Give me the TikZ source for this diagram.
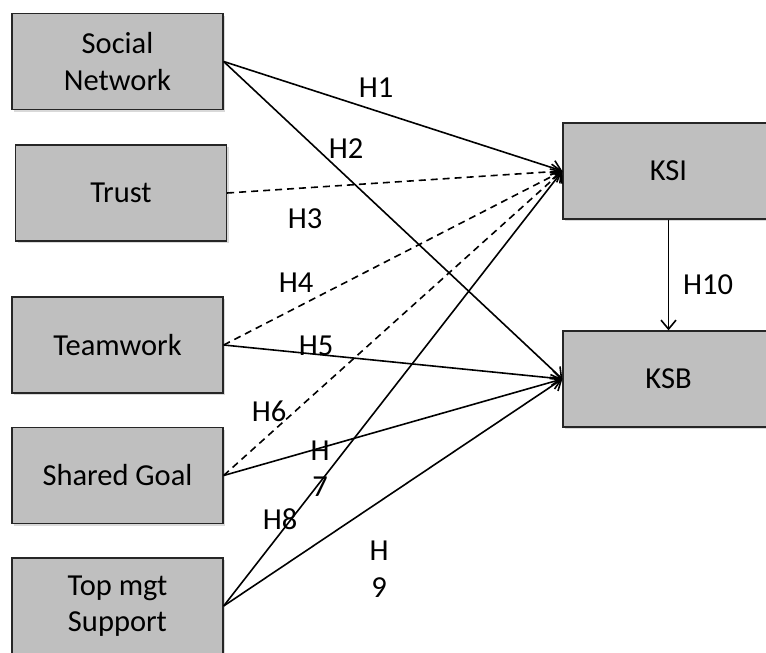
\documentclass[tikz,border=0pt]{standalone}
\usepackage{fontspec}
\setmainfont{Carlito}
\usetikzlibrary{arrows.meta,shadows}

\definecolor{boxgray}{RGB}{191,191,191}

\tikzset{
  construct/.style={draw=black!85, line width=1.3pt, fill=boxgray,
    minimum width=211pt, minimum height=96pt, inner sep=0pt,
    align=center, font=\fontsize{30.5}{36.5}\selectfont,
    drop shadow={opacity=0.3, shadow xshift=2pt, shadow yshift=-2pt}},
  path/.style={line width=1.6pt, -{Straight Barb[length=9pt, width=15pt, line width=1.6pt]}},
  weak/.style={path, dash pattern=on 7pt off 5pt},
  hyp/.style={inner sep=0pt, align=center, font=\fontsize{30.5}{36.5}\selectfont}
}

\begin{document}
\begin{tikzpicture}[x=1pt, y=-1pt]
  \clip (0,0) rectangle (766,653);

  % exogenous constructs
  \node[construct] (sn)    at (117.5, 61.5) {Social\\Network};
  \node[construct] (trust) at (121, 193)    {Trust};
  \node[construct] (team)  at (117.5, 345)  {Teamwork};
  \node[construct] (goal)  at (117.5, 475.5){Shared Goal};
  \node[construct] (top)   at (117.5, 606)  {Top mgt\\Support};

  % endogenous constructs
  \node[construct] (ksi) at (668.5, 171) {KSI};
  \node[construct] (ksb) at (668.5, 379) {KSB};

  % hypothesised paths
  \draw[path] (sn.east)    -- (ksi.west);
  \draw[path] (sn.east)    -- (ksb.west);
  \draw[weak] (trust.east) -- (ksi.west);
  \draw[weak] (team.east)  -- (ksi.west);
  \draw[path] (team.east)  -- (ksb.west);
  \draw[weak] (goal.east)  -- (ksi.west);
  \draw[path] (goal.east)  -- (ksb.west);
  \draw[path] (top.east)   -- (ksi.west);
  \draw[path] (top.east)   -- (ksb.west);
  \draw[path] (ksi.south)  -- (ksb.north);

  % hypothesis labels
  \node[hyp] (h1)  at (376, 87.5)  {H1};
  \node[hyp] (h2)  at (346, 149)   {H2};
  \node[hyp] (h3)  at (305, 219)   {H3};
  \node[hyp] (h4)  at (296, 283)   {H4};
  \node[hyp] (h5)  at (316, 346)   {H5};
  \node[hyp] (h6)  at (269, 411)   {H6};
  \node[hyp] (h7)  at (320, 468.5) {H\\7};
  \node[hyp] (h8)  at (280, 519)   {H8};
  \node[hyp] (h9)  at (379, 569)   {H\\9};
  \node[hyp] (h10) at (708, 285)   {H10};
\end{tikzpicture}
\end{document}
